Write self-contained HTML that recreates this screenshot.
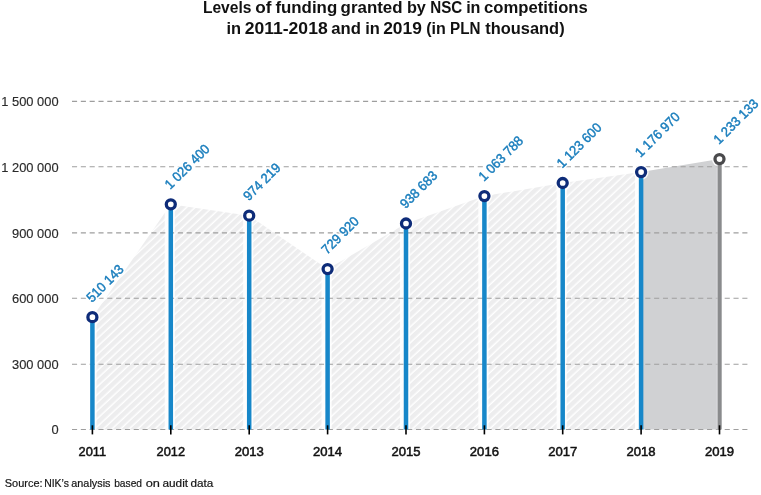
<!DOCTYPE html><html><head><meta charset="utf-8"><title>chart</title>
<style>html,body{margin:0;padding:0;background:#fff}svg{display:block;will-change:transform}text{font-family:"Liberation Sans",sans-serif}</style></head><body>
<svg width="761" height="495" viewBox="0 0 761 495">
<defs><pattern id="hatch" width="5.852" height="5.852" patternUnits="userSpaceOnUse" patternTransform="translate(6.69,0) rotate(47)"><rect width="5.852" height="5.852" fill="#ffffff"/><rect width="4.4" height="5.852" fill="#ededee"/></pattern></defs>
<rect width="761" height="495" fill="#fff"/>
<text x="202.88" y="12.6" font-size="16.8" font-weight="bold" fill="#111" textLength="48.56" lengthAdjust="spacingAndGlyphs">Levels</text>
<text x="255.3" y="12.6" font-size="16.8" font-weight="bold" fill="#111" textLength="16.24" lengthAdjust="spacingAndGlyphs">of</text>
<text x="275.42" y="12.6" font-size="16.8" font-weight="bold" fill="#111" textLength="61.8" lengthAdjust="spacingAndGlyphs">funding</text>
<text x="340.58" y="12.6" font-size="16.8" font-weight="bold" fill="#111" textLength="61.98" lengthAdjust="spacingAndGlyphs">granted</text>
<text x="406.94" y="12.6" font-size="16.8" font-weight="bold" fill="#111" textLength="18.99" lengthAdjust="spacingAndGlyphs">by</text>
<text x="430.2" y="12.6" font-size="16.8" font-weight="bold" fill="#111" textLength="32.04" lengthAdjust="spacingAndGlyphs">NSC</text>
<text x="466.13" y="12.6" font-size="16.8" font-weight="bold" fill="#111" textLength="14.37" lengthAdjust="spacingAndGlyphs">in</text>
<text x="484.1" y="12.6" font-size="16.8" font-weight="bold" fill="#111" textLength="103.71" lengthAdjust="spacingAndGlyphs">competitions</text>
<text x="226.41" y="33.6" font-size="16.8" font-weight="bold" fill="#111" textLength="14.58" lengthAdjust="spacingAndGlyphs">in</text>
<text x="244.67" y="33.6" font-size="16.8" font-weight="bold" fill="#111" textLength="83.01" lengthAdjust="spacingAndGlyphs">2011-2018</text>
<text x="331.28" y="33.6" font-size="16.8" font-weight="bold" fill="#111" textLength="29.64" lengthAdjust="spacingAndGlyphs">and</text>
<text x="365.15" y="33.6" font-size="16.8" font-weight="bold" fill="#111" textLength="14.63" lengthAdjust="spacingAndGlyphs">in</text>
<text x="383.2" y="33.6" font-size="16.8" font-weight="bold" fill="#111" textLength="38.75" lengthAdjust="spacingAndGlyphs">2019</text>
<text x="426.24" y="33.6" font-size="16.8" font-weight="bold" fill="#111" textLength="19.61" lengthAdjust="spacingAndGlyphs">(in</text>
<text x="450.07" y="33.6" font-size="16.8" font-weight="bold" fill="#111" textLength="30.42" lengthAdjust="spacingAndGlyphs">PLN</text>
<text x="485.34" y="33.6" font-size="16.8" font-weight="bold" fill="#111" textLength="79.29" lengthAdjust="spacingAndGlyphs">thousand)</text>
<polygon points="92.4,429.5 92.4,317.2 170.8,204.3 249.2,215.7 327.6,269.1 406.0,223.5 484.4,196.1 562.7,183.0 641.1,172.1 641.1,429.5" fill="url(#hatch)"/>
<line x1="91.4" x2="91.4" y1="317.2" y2="429.5" stroke="#fff" stroke-opacity="0.85" stroke-width="10.2"/>
<line x1="169.8" x2="169.8" y1="204.3" y2="429.5" stroke="#fff" stroke-opacity="0.85" stroke-width="10.2"/>
<line x1="248.2" x2="248.2" y1="215.7" y2="429.5" stroke="#fff" stroke-opacity="0.85" stroke-width="10.2"/>
<line x1="326.6" x2="326.6" y1="269.1" y2="429.5" stroke="#fff" stroke-opacity="0.85" stroke-width="10.2"/>
<line x1="405.0" x2="405.0" y1="223.5" y2="429.5" stroke="#fff" stroke-opacity="0.85" stroke-width="10.2"/>
<line x1="483.4" x2="483.4" y1="196.1" y2="429.5" stroke="#fff" stroke-opacity="0.85" stroke-width="10.2"/>
<line x1="561.7" x2="561.7" y1="183.0" y2="429.5" stroke="#fff" stroke-opacity="0.85" stroke-width="10.2"/>
<line x1="640.1" x2="640.1" y1="172.1" y2="429.5" stroke="#fff" stroke-opacity="0.85" stroke-width="10.2"/>
<polygon points="641.1,429.5 641.1,172.1 719.5,159.1 719.5,429.5" fill="#d0d1d3"/>
<line x1="72" x2="748" y1="429.5" y2="429.5" stroke="#9e9e9e" stroke-width="1.1" stroke-dasharray="5.1 3.72"/>
<text transform="translate(58.6,434.2) scale(0.955,1)" text-anchor="end" font-size="13.5" fill="#2a2a2a" stroke="#2a2a2a" stroke-width="0.15">0</text>
<line x1="72" x2="748" y1="364.2" y2="364.2" stroke="#9e9e9e" stroke-width="1.1" stroke-dasharray="5.1 3.72"/>
<text transform="translate(58.6,368.9) scale(0.955,1)" text-anchor="end" font-size="13.5" fill="#2a2a2a" stroke="#2a2a2a" stroke-width="0.15">300 000</text>
<line x1="72" x2="748" y1="298.2" y2="298.2" stroke="#9e9e9e" stroke-width="1.1" stroke-dasharray="5.1 3.72"/>
<text transform="translate(58.6,302.9) scale(0.955,1)" text-anchor="end" font-size="13.5" fill="#2a2a2a" stroke="#2a2a2a" stroke-width="0.15">600 000</text>
<line x1="72" x2="748" y1="232.9" y2="232.9" stroke="#9e9e9e" stroke-width="1.1" stroke-dasharray="5.1 3.72"/>
<text transform="translate(58.6,237.6) scale(0.955,1)" text-anchor="end" font-size="13.5" fill="#2a2a2a" stroke="#2a2a2a" stroke-width="0.15">900 000</text>
<line x1="72" x2="748" y1="166.8" y2="166.8" stroke="#9e9e9e" stroke-width="1.1" stroke-dasharray="5.1 3.72"/>
<text transform="translate(58.6,171.5) scale(0.955,1)" text-anchor="end" font-size="13.5" fill="#2a2a2a" stroke="#2a2a2a" stroke-width="0.15">1 200 000</text>
<line x1="72" x2="748" y1="101.4" y2="101.4" stroke="#9e9e9e" stroke-width="1.1" stroke-dasharray="5.1 3.72"/>
<text transform="translate(58.6,106.1) scale(0.955,1)" text-anchor="end" font-size="13.5" fill="#2a2a2a" stroke="#2a2a2a" stroke-width="0.15">1 500 000</text>
<circle cx="92.4" cy="317.2" r="7.6" fill="#fff" fill-opacity="0.85"/>
<circle cx="170.8" cy="204.3" r="7.6" fill="#fff" fill-opacity="0.85"/>
<circle cx="249.2" cy="215.7" r="7.6" fill="#fff" fill-opacity="0.85"/>
<circle cx="327.6" cy="269.1" r="7.6" fill="#fff" fill-opacity="0.85"/>
<circle cx="406.0" cy="223.5" r="7.6" fill="#fff" fill-opacity="0.85"/>
<circle cx="484.4" cy="196.1" r="7.6" fill="#fff" fill-opacity="0.85"/>
<circle cx="562.7" cy="183.0" r="7.6" fill="#fff" fill-opacity="0.85"/>
<circle cx="641.1" cy="172.1" r="7.6" fill="#fff" fill-opacity="0.85"/>
<circle cx="719.5" cy="159.1" r="7.6" fill="#fff" fill-opacity="0.85"/>
<line x1="92.4" x2="92.4" y1="317.2" y2="429.5" stroke="#1787c9" stroke-width="4.5"/>
<line x1="170.8" x2="170.8" y1="204.3" y2="429.5" stroke="#1787c9" stroke-width="4.5"/>
<line x1="249.2" x2="249.2" y1="215.7" y2="429.5" stroke="#1787c9" stroke-width="4.5"/>
<line x1="327.6" x2="327.6" y1="269.1" y2="429.5" stroke="#1787c9" stroke-width="4.5"/>
<line x1="406.0" x2="406.0" y1="223.5" y2="429.5" stroke="#1787c9" stroke-width="4.5"/>
<line x1="484.4" x2="484.4" y1="196.1" y2="429.5" stroke="#1787c9" stroke-width="4.5"/>
<line x1="562.7" x2="562.7" y1="183.0" y2="429.5" stroke="#1787c9" stroke-width="4.5"/>
<line x1="641.1" x2="641.1" y1="172.1" y2="429.5" stroke="#1787c9" stroke-width="4.5"/>
<line x1="717.1" x2="717.1" y1="163.1" y2="429.5" stroke="#dcdde0" stroke-width="1"/>
<line x1="719.7" x2="719.7" y1="159.1" y2="429.5" stroke="#8a8b8d" stroke-width="4.0"/>
<line x1="92.4" x2="92.4" y1="425.3" y2="434.4" stroke="#000" stroke-width="1.6"/>
<line x1="170.8" x2="170.8" y1="425.3" y2="434.4" stroke="#000" stroke-width="1.6"/>
<line x1="249.2" x2="249.2" y1="425.3" y2="434.4" stroke="#000" stroke-width="1.6"/>
<line x1="327.6" x2="327.6" y1="425.3" y2="434.4" stroke="#000" stroke-width="1.6"/>
<line x1="406.0" x2="406.0" y1="425.3" y2="434.4" stroke="#000" stroke-width="1.6"/>
<line x1="484.4" x2="484.4" y1="425.3" y2="434.4" stroke="#000" stroke-width="1.6"/>
<line x1="562.7" x2="562.7" y1="425.3" y2="434.4" stroke="#000" stroke-width="1.6"/>
<line x1="641.1" x2="641.1" y1="425.3" y2="434.4" stroke="#000" stroke-width="1.6"/>
<line x1="719.5" x2="719.5" y1="425.3" y2="434.4" stroke="#000" stroke-width="1.6"/>
<circle cx="92.4" cy="317.2" r="4.5" fill="#fff" stroke="#0e2c79" stroke-width="3.3"/>
<circle cx="170.8" cy="204.3" r="4.5" fill="#fff" stroke="#0e2c79" stroke-width="3.3"/>
<circle cx="249.2" cy="215.7" r="4.5" fill="#fff" stroke="#0e2c79" stroke-width="3.3"/>
<circle cx="327.6" cy="269.1" r="4.5" fill="#fff" stroke="#0e2c79" stroke-width="3.3"/>
<circle cx="406.0" cy="223.5" r="4.5" fill="#fff" stroke="#0e2c79" stroke-width="3.3"/>
<circle cx="484.4" cy="196.1" r="4.5" fill="#fff" stroke="#0e2c79" stroke-width="3.3"/>
<circle cx="562.7" cy="183.0" r="4.5" fill="#fff" stroke="#0e2c79" stroke-width="3.3"/>
<circle cx="641.1" cy="172.1" r="4.5" fill="#fff" stroke="#0e2c79" stroke-width="3.3"/>
<circle cx="719.5" cy="159.1" r="4.5" fill="#fff" stroke="#4a4a4c" stroke-width="3.3"/>
<text transform="translate(91.9,303.0) rotate(-45) scale(0.9458,1)" font-size="13.6" word-spacing="-0.1" fill="#fff" stroke="#fff" stroke-opacity="0.8" stroke-width="3.6" stroke-linejoin="round">510 143</text>
<text transform="translate(91.9,303.0) rotate(-45) scale(0.9458,1)" font-size="13.6" word-spacing="-0.1" fill="#1a7ebd" stroke="#1a7ebd" stroke-width="0.45">510 143</text>
<text transform="translate(170.3,190.1) rotate(-45) scale(0.9458,1)" font-size="13.6" word-spacing="-0.1" fill="#fff" stroke="#fff" stroke-opacity="0.8" stroke-width="3.6" stroke-linejoin="round">1 026 400</text>
<text transform="translate(170.3,190.1) rotate(-45) scale(0.9458,1)" font-size="13.6" word-spacing="-0.1" fill="#1a7ebd" stroke="#1a7ebd" stroke-width="0.45">1 026 400</text>
<text transform="translate(248.7,201.5) rotate(-45) scale(0.9458,1)" font-size="13.6" word-spacing="-0.1" fill="#fff" stroke="#fff" stroke-opacity="0.8" stroke-width="3.6" stroke-linejoin="round">974 219</text>
<text transform="translate(248.7,201.5) rotate(-45) scale(0.9458,1)" font-size="13.6" word-spacing="-0.1" fill="#1a7ebd" stroke="#1a7ebd" stroke-width="0.45">974 219</text>
<text transform="translate(327.1,254.9) rotate(-45) scale(0.9458,1)" font-size="13.6" word-spacing="-0.1" fill="#fff" stroke="#fff" stroke-opacity="0.8" stroke-width="3.6" stroke-linejoin="round">729 920</text>
<text transform="translate(327.1,254.9) rotate(-45) scale(0.9458,1)" font-size="13.6" word-spacing="-0.1" fill="#1a7ebd" stroke="#1a7ebd" stroke-width="0.45">729 920</text>
<text transform="translate(405.5,209.3) rotate(-45) scale(0.9458,1)" font-size="13.6" word-spacing="-0.1" fill="#fff" stroke="#fff" stroke-opacity="0.8" stroke-width="3.6" stroke-linejoin="round">938 683</text>
<text transform="translate(405.5,209.3) rotate(-45) scale(0.9458,1)" font-size="13.6" word-spacing="-0.1" fill="#1a7ebd" stroke="#1a7ebd" stroke-width="0.45">938 683</text>
<text transform="translate(483.9,181.9) rotate(-45) scale(0.9458,1)" font-size="13.6" word-spacing="-0.1" fill="#fff" stroke="#fff" stroke-opacity="0.8" stroke-width="3.6" stroke-linejoin="round">1 063 788</text>
<text transform="translate(483.9,181.9) rotate(-45) scale(0.9458,1)" font-size="13.6" word-spacing="-0.1" fill="#1a7ebd" stroke="#1a7ebd" stroke-width="0.45">1 063 788</text>
<text transform="translate(562.2,168.8) rotate(-45) scale(0.9458,1)" font-size="13.6" word-spacing="-0.1" fill="#fff" stroke="#fff" stroke-opacity="0.8" stroke-width="3.6" stroke-linejoin="round">1 123 600</text>
<text transform="translate(562.2,168.8) rotate(-45) scale(0.9458,1)" font-size="13.6" word-spacing="-0.1" fill="#1a7ebd" stroke="#1a7ebd" stroke-width="0.45">1 123 600</text>
<text transform="translate(640.6,157.9) rotate(-45) scale(0.9458,1)" font-size="13.6" word-spacing="-0.1" fill="#fff" stroke="#fff" stroke-opacity="0.8" stroke-width="3.6" stroke-linejoin="round">1 176 970</text>
<text transform="translate(640.6,157.9) rotate(-45) scale(0.9458,1)" font-size="13.6" word-spacing="-0.1" fill="#1a7ebd" stroke="#1a7ebd" stroke-width="0.45">1 176 970</text>
<text transform="translate(719.0,144.9) rotate(-45) scale(0.9458,1)" font-size="13.6" word-spacing="-0.1" fill="#fff" stroke="#fff" stroke-opacity="0.8" stroke-width="3.6" stroke-linejoin="round">1 233 133</text>
<text transform="translate(719.0,144.9) rotate(-45) scale(0.9458,1)" font-size="13.6" word-spacing="-0.1" fill="#1a7ebd" stroke="#1a7ebd" stroke-width="0.45">1 233 133</text>
<text x="92.4" y="456.4" text-anchor="middle" font-size="12.9" fill="#111" stroke="#111" stroke-width="0.5" textLength="27.6" lengthAdjust="spacingAndGlyphs">2011</text>
<text x="170.8" y="456.4" text-anchor="middle" font-size="12.9" fill="#111" stroke="#111" stroke-width="0.5" textLength="28.4" lengthAdjust="spacingAndGlyphs">2012</text>
<text x="249.2" y="456.4" text-anchor="middle" font-size="12.9" fill="#111" stroke="#111" stroke-width="0.5" textLength="29.1" lengthAdjust="spacingAndGlyphs">2013</text>
<text x="327.6" y="456.4" text-anchor="middle" font-size="12.9" fill="#111" stroke="#111" stroke-width="0.5" textLength="29.1" lengthAdjust="spacingAndGlyphs">2014</text>
<text x="406.0" y="456.4" text-anchor="middle" font-size="12.9" fill="#111" stroke="#111" stroke-width="0.5" textLength="29.1" lengthAdjust="spacingAndGlyphs">2015</text>
<text x="484.4" y="456.4" text-anchor="middle" font-size="12.9" fill="#111" stroke="#111" stroke-width="0.5" textLength="29.1" lengthAdjust="spacingAndGlyphs">2016</text>
<text x="562.7" y="456.4" text-anchor="middle" font-size="12.9" fill="#111" stroke="#111" stroke-width="0.5" textLength="29.1" lengthAdjust="spacingAndGlyphs">2017</text>
<text x="641.1" y="456.4" text-anchor="middle" font-size="12.9" fill="#111" stroke="#111" stroke-width="0.5" textLength="29.1" lengthAdjust="spacingAndGlyphs">2018</text>
<text x="719.5" y="456.4" text-anchor="middle" font-size="12.9" fill="#111" stroke="#111" stroke-width="0.5" textLength="29.1" lengthAdjust="spacingAndGlyphs">2019</text>
<text x="4.8" y="486.5" font-size="11.3" fill="#151515" stroke="#151515" stroke-width="0.2" textLength="37.75" lengthAdjust="spacingAndGlyphs">Source:</text>
<text x="44.16" y="486.5" font-size="11.3" fill="#151515" stroke="#151515" stroke-width="0.2" textLength="24.72" lengthAdjust="spacingAndGlyphs">NIK’s</text>
<text x="71.28" y="486.5" font-size="11.3" fill="#151515" stroke="#151515" stroke-width="0.2" textLength="39.24" lengthAdjust="spacingAndGlyphs">analysis</text>
<text x="114.2" y="486.5" font-size="11.3" fill="#151515" stroke="#151515" stroke-width="0.2" textLength="27.85" lengthAdjust="spacingAndGlyphs">based</text>
<text x="145.76" y="486.5" font-size="11.3" fill="#151515" stroke="#151515" stroke-width="0.2" textLength="14.22" lengthAdjust="spacingAndGlyphs">on</text>
<text x="162.41" y="486.5" font-size="11.3" fill="#151515" stroke="#151515" stroke-width="0.2" textLength="25.64" lengthAdjust="spacingAndGlyphs">audit</text>
<text x="190.57" y="486.5" font-size="11.3" fill="#151515" stroke="#151515" stroke-width="0.2" textLength="22.8" lengthAdjust="spacingAndGlyphs">data</text>

</svg></body></html>
